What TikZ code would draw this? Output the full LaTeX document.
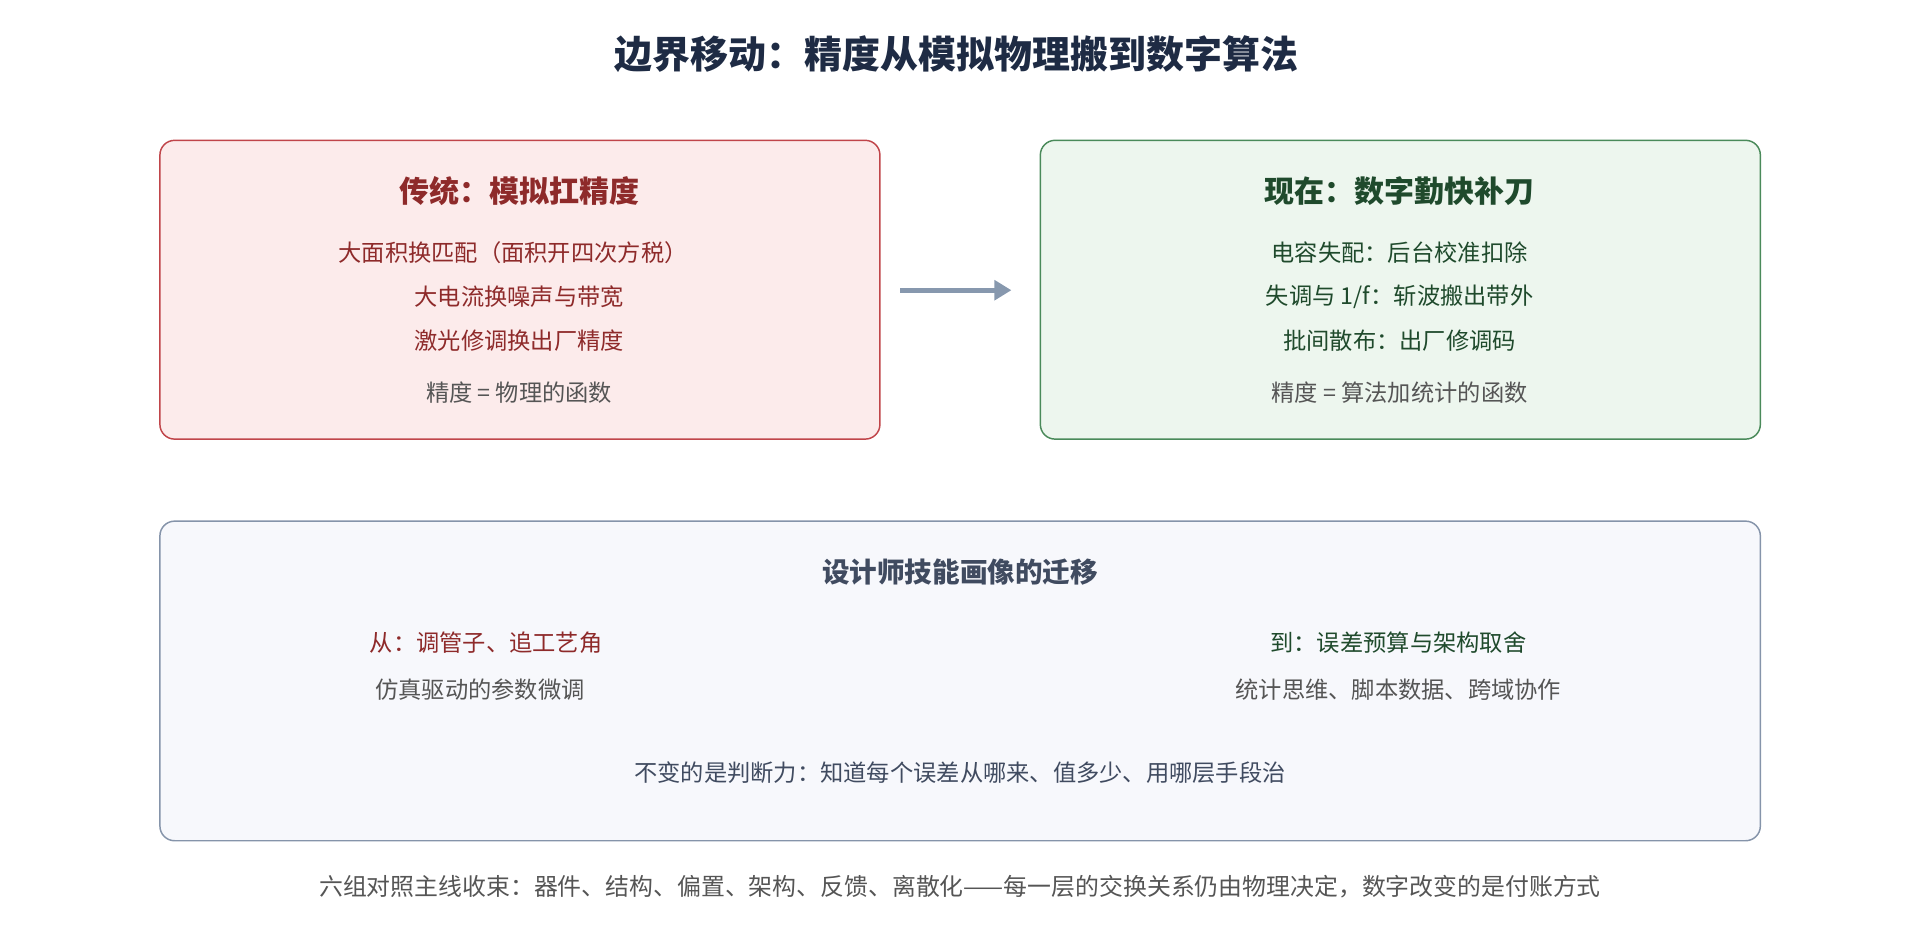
\documentclass[tikz,border=0pt]{standalone}
\usepackage{fontspec}
\usetikzlibrary{arrows.meta}
\setmainfont{Noto Sans CJK SC}
\begin{document}
\begin{tikzpicture}[x=1pt,y=-1pt,
  box/.style={draw,rounded corners=12pt,line width=1.2pt},
  t/.style={font=\fontsize{19}{22}\selectfont,anchor=center,inner sep=0},
  h/.style={font=\fontsize{24.5}{28}\selectfont\bfseries,anchor=center,inner sep=0}]
\definecolor{rf}{HTML}{FCEBEB}\definecolor{rb}{HTML}{C0454A}\definecolor{rt}{HTML}{8E2A2A}
\definecolor{gf}{HTML}{EDF6EE}\definecolor{gb}{HTML}{4A8A5A}\definecolor{gt}{HTML}{1F4A2C}
\definecolor{bf}{HTML}{F7F8FC}\definecolor{bb}{HTML}{8594AA}\definecolor{gr}{HTML}{555555}
\definecolor{nv}{HTML}{1E2B44}\definecolor{ar}{HTML}{8798AE}
\useasboundingbox (0,0) rectangle (1568,768);
\node[font=\fontsize{31}{36}\selectfont\bfseries,text=nv] (title) at (781,44) {边界移动：精度从模拟物理搬到数字算法};
\node[box,draw=rb,fill=rf,minimum width=588,minimum height=244,anchor=north west] (L) at (130,114) {};
\node[box,draw=gb,fill=gf,minimum width=588,minimum height=244,anchor=north west] (R) at (849,114) {};
\node[box,draw=bb,fill=bf,minimum width=1307,minimum height=261,anchor=north west] (B) at (130,425) {};
\node[h,text=rt] (lh) at (424,156) {传统：模拟扛精度};
\node[t,text=rt] (l1) at (419,206) {大面积换匹配（面积开四次方税）};
\node[t,text=rt] (l2) at (424,242) {大电流换噪声与带宽};
\node[t,text=rt] (l3) at (424,278) {激光修调换出厂精度};
\node[t,text=gr] (l4) at (424,321) {精度 = 物理的函数};
\node[h,text=gt] (rh) at (1143,156) {现在：数字勤快补刀};
\node[t,text=gt] (r1) at (1143,206) {电容失配：后台校准扣除};
\node[t,text=gt] (r2) at (1143,242) {失调与 1/f：斩波搬出带外};
\node[t,text=gt] (r3) at (1143,278) {批间散布：出厂修调码};
\node[t,text=gr] (r4) at (1143,321) {精度 = 算法加统计的函数};
\coordinate (a1) at (735,237); \coordinate (a2) at (826,237);
\draw[ar,line width=4pt,-{Triangle[length=14pt,width=16pt]}] (a1) -- (a2);
\node[font=\fontsize{22.5}{26}\selectfont\bfseries,text=nv!85] (bh) at (784,467) {设计师技能画像的迁移};
\node[t,text=rt] (b1) at (397,525) {从：调管子、追工艺角};
\node[t,text=gr] (b2) at (392,563) {仿真驱动的参数微调};
\node[t,text=gt] (b3) at (1142,525) {到：误差预算与架构取舍};
\node[t,text=gr] (b4) at (1142,563) {统计思维、脚本数据、跨域协作};
\node[t,text=nv!85] (b5) at (784,631) {不变的是判断力：知道每个误差从哪来、值多少、用哪层手段治};
\node[t,text=gr,font=\fontsize{19.5}{22}\selectfont] (foot) at (784,724) {六组对照主线收束：器件、结构、偏置、架构、反馈、离散化——每一层的交换关系仍由物理决定，数字改变的是付账方式};
\end{tikzpicture}
\end{document}
